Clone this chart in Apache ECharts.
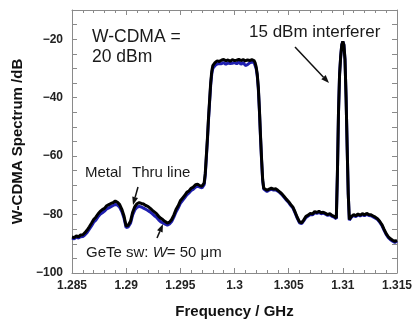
<!DOCTYPE html>
<html><head><meta charset="utf-8">
<script src="https://cdn.jsdelivr.net/npm/echarts@6/dist/echarts.min.js"></script>
<style>html,body{margin:0;padding:0;background:#fff}#c{width:412px;height:320px}</style>
</head><body><div id="c"></div>
<script>
const freq = [1.2850,1.2852,1.2854,1.2856,1.2858,1.2860,1.2862,1.2864,1.2866,1.2868,1.2870,1.2872,1.2874,1.2876,1.2878,1.2880,1.2882,1.2884,1.2886,1.2888,1.2890,1.2892,1.2894,1.2896,1.2898,1.2900,1.2902,1.2904,1.2906,1.2908,1.2910,1.2912,1.2914,1.2916,1.2918,1.2920,1.2922,1.2924,1.2926,1.2928,1.2930,1.2932,1.2934,1.2936,1.2938,1.2940,1.2942,1.2944,1.2946,1.2948,1.2950,1.2952,1.2954,1.2956,1.2958,1.2960,1.2962,1.2964,1.2966,1.2968,1.2970,1.2971,1.2972,1.2973,1.2974,1.2975,1.2976,1.2977,1.2978,1.2979,1.2980,1.2982,1.2984,1.2986,1.2988,1.2990,1.2992,1.2994,1.2996,1.2998,1.3000,1.3002,1.3004,1.3006,1.3008,1.3010,1.3012,1.3014,1.3016,1.3018,1.3019,1.3020,1.3021,1.3022,1.3023,1.3024,1.3025,1.3026,1.3027,1.3028,1.3030,1.3032,1.3034,1.3036,1.3038,1.3040,1.3042,1.3044,1.3046,1.3048,1.3050,1.3052,1.3054,1.3056,1.3058,1.3060,1.3062,1.3064,1.3066,1.3068,1.3070,1.3072,1.3074,1.3076,1.3078,1.3080,1.3082,1.3084,1.3086,1.3088,1.3090,1.3092,1.3094,1.3095,1.3096,1.3097,1.3098,1.3099,1.3100,1.3101,1.3102,1.3103,1.3104,1.3105,1.3106,1.3108,1.3110,1.3112,1.3114,1.3116,1.3118,1.3120,1.3122,1.3124,1.3126,1.3128,1.3130,1.3132,1.3134,1.3136,1.3138,1.3140,1.3142,1.3144,1.3146,1.3148,1.3150];
const metalThru = [-87.7,-87.9,-87.3,-87.6,-87.0,-86.9,-86.2,-85.3,-84.2,-83.0,-81.7,-80.9,-79.8,-78.9,-78.3,-77.9,-77.0,-76.6,-76.2,-75.9,-75.4,-75.8,-76.6,-78.2,-80.5,-84.0,-83.6,-82.3,-79.2,-77.3,-76.3,-75.9,-76.2,-76.4,-76.9,-77.2,-77.8,-78.5,-79.1,-79.7,-80.6,-81.3,-81.8,-82.4,-82.9,-82.6,-81.7,-80.2,-78.3,-77.0,-75.3,-74.4,-73.5,-72.4,-71.9,-71.0,-70.6,-69.8,-69.6,-70.1,-70.3,-70.0,-69.2,-66.0,-60.0,-54.0,-47.0,-41.0,-35.0,-31.0,-29.0,-28.0,-27.4,-27.6,-27.2,-26.9,-27.4,-27.1,-27.5,-27.0,-27.3,-27.2,-26.9,-27.3,-27.0,-27.4,-27.1,-27.3,-27.0,-27.3,-28.0,-29.5,-32.0,-36.5,-44.0,-53.0,-61.0,-68.0,-71.0,-71.4,-71.7,-71.3,-71.0,-71.3,-71.2,-71.7,-72.3,-73.0,-73.9,-74.8,-75.6,-76.6,-77.5,-79.2,-81.0,-82.5,-82.8,-81.8,-80.6,-80.2,-79.6,-79.8,-79.0,-79.3,-78.9,-79.4,-79.2,-79.6,-80.0,-79.7,-80.3,-80.6,-81.2,-66.0,-45.0,-32.0,-26.0,-22.0,-20.8,-22.0,-27.0,-40.0,-57.0,-73.0,-81.7,-80.6,-80.0,-80.4,-79.8,-80.2,-79.7,-80.1,-79.6,-80.0,-80.1,-80.5,-80.9,-81.4,-82.3,-83.4,-85.0,-86.5,-87.6,-88.3,-88.8,-89.2,-88.8];
const geteSw = [-88.1,-88.3,-87.8,-88.0,-87.6,-87.5,-86.9,-86.1,-85.0,-83.9,-82.6,-81.9,-80.8,-79.9,-79.4,-78.8,-78.1,-77.7,-77.3,-76.9,-76.5,-76.8,-77.5,-79.0,-81.2,-84.5,-84.2,-83.0,-80.1,-78.4,-77.5,-77.2,-77.4,-77.8,-78.2,-78.6,-79.1,-79.7,-80.4,-80.9,-81.8,-82.5,-82.9,-83.3,-83.6,-83.2,-82.4,-80.9,-79.1,-77.8,-76.2,-75.2,-74.3,-73.3,-72.6,-71.8,-71.3,-70.6,-70.2,-70.6,-70.9,-70.6,-69.8,-66.5,-60.6,-54.6,-47.6,-41.6,-35.8,-31.9,-30.0,-29.0,-28.5,-28.3,-28.4,-28.0,-28.6,-28.1,-28.3,-28.2,-28.0,-28.4,-27.8,-28.6,-27.9,-29.0,-28.7,-28.1,-27.8,-28.0,-28.6,-30.0,-32.5,-37.0,-44.5,-53.5,-61.5,-68.4,-71.3,-71.7,-72.1,-71.6,-71.4,-71.6,-71.6,-72.0,-72.6,-73.3,-74.2,-75.1,-75.9,-76.9,-77.8,-79.5,-81.3,-82.8,-83.1,-82.1,-81.0,-80.5,-80.0,-80.1,-79.4,-79.6,-79.3,-79.7,-79.5,-79.9,-80.3,-80.0,-80.6,-80.9,-81.4,-66.0,-45.0,-32.0,-26.0,-22.0,-20.8,-22.0,-27.0,-40.0,-57.0,-73.0,-81.9,-80.9,-80.3,-80.7,-80.1,-80.5,-80.0,-80.4,-79.9,-80.3,-80.4,-80.8,-81.2,-81.7,-82.6,-83.7,-85.3,-86.8,-87.9,-88.6,-89.1,-89.5,-89.1];
const xTicks = {min: 1.285, max: 1.315, step: 0.005};
const yTicks = {min: -100, max: -10, step: 5, labelStep: 20};

const FONT = 'Liberation Sans, Arial, sans-serif';
const chart = echarts.init(document.getElementById('c'), null, {renderer: 'canvas'});
const zip = (xs, ys) => xs.map((x, i) => [x, ys[i]]);

function arrow(x1, y1, x2, y2) {
  const a = Math.atan2(y2 - y1, x2 - x1), L = 8, W = 3;
  const bx = x2 - L * Math.cos(a), by = y2 - L * Math.sin(a);
  const px = -Math.sin(a) * W, py = Math.cos(a) * W;
  return [
    {type: 'line', shape: {x1: x1, y1: y1, x2: bx, y2: by}, style: {stroke: '#111', lineWidth: 1.5}, z: 100},
    {type: 'polygon', shape: {points: [[x2, y2], [bx + px, by + py], [bx - px, by - py]]}, style: {fill: '#111'}, z: 100}
  ];
}
const txt = (x, y, text, size, extra) => Object.assign({
  type: 'text', x: x, y: y, z: 100,
  style: {text: text, font: size + 'px ' + FONT, fill: '#1a1a1a', verticalAlign: 'middle', align: 'left'}
}, extra || {});

const axisLineStyle = {color: '#8a8a8a', width: 1};
const xBase = {
  type: 'value', min: xTicks.min, max: xTicks.max, interval: xTicks.step,
  axisLine: {show: true, onZero: false, lineStyle: axisLineStyle},
  axisTick: {show: true, inside: true, length: 5, lineStyle: axisLineStyle},
  minorTick: {show: true, splitNumber: 5, length: 3, lineStyle: axisLineStyle},
  splitLine: {show: false}
};
const yBase = {
  type: 'value', min: yTicks.min, max: yTicks.max, interval: yTicks.step,
  axisLine: {show: true, onZero: false, lineStyle: axisLineStyle},
  axisTick: {show: true, inside: true, length: 5, lineStyle: axisLineStyle},
  splitLine: {show: false}
};

chart.setOption({
  animation: false,
  backgroundColor: '#fff',
  grid: {left: 72, right: 15, top: 10, bottom: 47, containLabel: false, outerBoundsMode: 'none'},
  xAxis: [
    Object.assign({}, xBase, {
      position: 'bottom',
      name: 'Frequency / GHz', nameLocation: 'middle', nameGap: 31,
      nameTextStyle: {fontFamily: FONT, fontSize: 15, fontWeight: 'bold', color: '#111'},
      axisLabel: {show: true, margin: 7, fontFamily: FONT, fontSize: 12, fontWeight: 'bold', color: '#222',
        showMinLabel: true, showMaxLabel: true,
        formatter: v => String(+v.toFixed(3))}
    }),
    Object.assign({}, xBase, {position: 'top', axisLabel: {show: false}})
  ],
  yAxis: [
    Object.assign({}, yBase, {
      position: 'left',
      name: 'W-CDMA Spectrum /dB', nameLocation: 'middle', nameGap: 38,
      nameTextStyle: {fontFamily: FONT, fontSize: 15, fontWeight: 'bold', color: '#111'},
      axisLabel: {show: true, margin: 9, fontFamily: FONT, fontSize: 12, fontWeight: 'bold', color: '#222',
        formatter: v => (Math.round(v) % yTicks.labelStep === 0 ? String(Math.round(v)).replace('-', '\u2212') : '')}
    }),
    Object.assign({}, yBase, {position: 'right', axisLabel: {show: false}})
  ],
  series: [
    {name: 'GeTe sw', type: 'line', data: zip(freq, geteSw), showSymbol: false, symbol: 'none',
     lineStyle: {color: '#1f1fb0', width: 3}, z: 2},
    {name: 'Metal Thru line', type: 'line', data: zip(freq, metalThru), showSymbol: false, symbol: 'none',
     lineStyle: {color: '#000', width: 3}, z: 3}
  ],
  graphic: [
    txt(92, 37, 'W-CDMA =', 17.5),
    txt(92, 57, '20 dBm', 17.5),
    txt(249, 32, '15 dBm interferer', 17),
    txt(85, 173, 'Metal', 15),
    txt(132, 173, 'Thru line', 15),
    {type: 'text', x: 86, y: 253, z: 100, style: {
      text: '{n|GeTe sw: }{i|W}{n|= 50 \u03bcm}', verticalAlign: 'middle', align: 'left',
      rich: {n: {fontFamily: FONT, fontSize: 15, fill: '#1a1a1a', color: '#1a1a1a'},
             i: {fontFamily: FONT, fontSize: 15, fontStyle: 'italic', fill: '#1a1a1a', color: '#1a1a1a'}}
    }}
  ].concat(arrow(295, 47, 329, 83), arrow(138, 187, 133, 205), arrow(157, 238, 163, 224))
});
</script></body></html>
